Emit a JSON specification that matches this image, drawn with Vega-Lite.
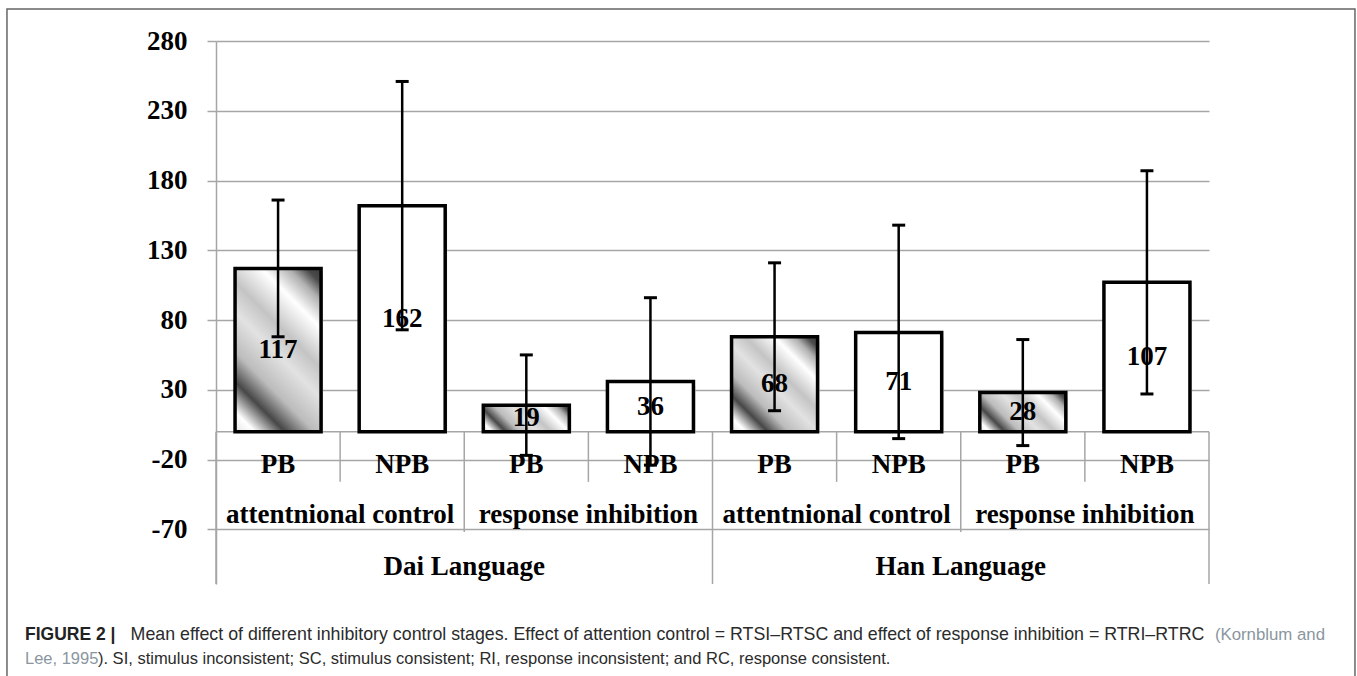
{
  "$schema": "https://vega.github.io/schema/vega-lite/v6.json",
  "width": 993,
  "height": 543,
  "autosize": {"type": "none"},
  "padding": {"left": 216, "top": 41, "right": 148, "bottom": 92},
  "background": "white",
  "config": {"view": {"stroke": null}, "font": "Liberation Serif"},
  "datasets": {
    "bars": [
      {"lang": "Dai Language", "group": "attentnional control", "cond": "PB", "key": "Dai-att-PB", "mean": 117, "lo": 68, "hi": 166},
      {"lang": "Dai Language", "group": "attentnional control", "cond": "NPB", "key": "Dai-att-NPB", "mean": 162, "lo": 73, "hi": 251},
      {"lang": "Dai Language", "group": "response inhibition", "cond": "PB", "key": "Dai-res-PB", "mean": 19, "lo": -17, "hi": 55},
      {"lang": "Dai Language", "group": "response inhibition", "cond": "NPB", "key": "Dai-res-NPB", "mean": 36, "lo": -24, "hi": 96},
      {"lang": "Han Language", "group": "attentnional control", "cond": "PB", "key": "Han-att-PB", "mean": 68, "lo": 15, "hi": 121},
      {"lang": "Han Language", "group": "attentnional control", "cond": "NPB", "key": "Han-att-NPB", "mean": 71, "lo": -5, "hi": 148},
      {"lang": "Han Language", "group": "response inhibition", "cond": "PB", "key": "Han-res-PB", "mean": 28, "lo": -10, "hi": 66},
      {"lang": "Han Language", "group": "response inhibition", "cond": "NPB", "key": "Han-res-NPB", "mean": 107, "lo": 27, "hi": 187}
    ],
    "groups": [
      {"gk": "Dai-att", "label": "attentnional control"},
      {"gk": "Dai-res", "label": "response inhibition"},
      {"gk": "Han-att", "label": "attentnional control"},
      {"gk": "Han-res", "label": "response inhibition"}
    ],
    "langs": [
      {"lang": "Dai Language"},
      {"lang": "Han Language"}
    ],
    "caption": [
      {"part": "fig", "text": "FIGURE 2 |"},
      {"part": "main1", "text": "Mean effect of different inhibitory control stages. Effect of attention control = RTSI–RTSC and effect of response inhibition = RTRI–RTRC"},
      {"part": "cite1", "text": "(Kornblum and"},
      {"part": "cite2", "text": "Lee, 1995"},
      {"part": "main2", "text": "). SI, stimulus inconsistent; SC, stimulus consistent; RI, response inconsistent; and RC, response consistent."}
    ],
    "one": [{}]
  },
  "resolve": {"scale": {"x": "independent", "y": "independent"}},
  "layer": [
    {
      "data": {"name": "one"},
      "layer": [
        {
          "mark": {"type": "rect", "fill": null, "stroke": "#666666", "strokeWidth": 1.5},
          "encoding": {
            "x": {"datum": -1.684, "type": "quantitative", "scale": {"domain": [0, 8]}, "axis": null},
            "x2": {"datum": 9.176},
            "y": {"datum": 302.9, "type": "quantitative", "scale": {"domain": [-109.2, 280], "nice": false, "zero": false}, "axis": null},
            "y2": {"datum": -260}
          }
        },
        {
          "data": {"name": "caption"},
          "transform": [{"filter": "datum.part=='fig'"}],
          "mark": {"type": "text", "font": "Liberation Sans", "fontWeight": "bold", "fontSize": 17.5, "align": "left", "baseline": "middle", "color": "#222222"},
          "encoding": {"x": {"datum": -1.5388, "type": "quantitative"}, "y": {"datum": -145.7, "type": "quantitative"}, "text": {"field": "text"}}
        },
        {
          "data": {"name": "caption"},
          "transform": [{"filter": "datum.part=='main1'"}],
          "mark": {"type": "text", "font": "Liberation Sans", "fontSize": 17.8, "align": "left", "baseline": "middle", "color": "#2b2b2b"},
          "encoding": {"x": {"datum": -0.688, "type": "quantitative"}, "y": {"datum": -145.7, "type": "quantitative"}, "text": {"field": "text"}}
        },
        {
          "data": {"name": "caption"},
          "transform": [{"filter": "datum.part=='cite1'"}],
          "mark": {"type": "text", "font": "Liberation Sans", "fontSize": 16.8, "align": "right", "baseline": "middle", "color": "#8a96a0"},
          "encoding": {"x": {"datum": 8.9345, "type": "quantitative"}, "y": {"datum": -145.7, "type": "quantitative"}, "text": {"field": "text"}}
        },
        {
          "data": {"name": "caption"},
          "transform": [{"filter": "datum.part=='cite2'"}],
          "mark": {"type": "text", "font": "Liberation Sans", "fontSize": 16.5, "align": "left", "baseline": "middle", "color": "#8a96a0"},
          "encoding": {"x": {"datum": -1.5388, "type": "quantitative"}, "y": {"datum": -162.9, "type": "quantitative"}, "text": {"field": "text"}}
        },
        {
          "data": {"name": "caption"},
          "transform": [{"filter": "datum.part=='main2'"}],
          "mark": {"type": "text", "font": "Liberation Sans", "fontSize": 16.5, "align": "left", "baseline": "middle", "color": "#2b2b2b"},
          "encoding": {"x": {"datum": -0.951, "type": "quantitative"}, "y": {"datum": -162.9, "type": "quantitative"}, "text": {"field": "text"}}
        }
      ]
    },
    {
      "data": {"name": "one"},
      "mark": {"type": "rule", "stroke": "#a6a6a6", "strokeWidth": 1.5},
      "encoding": {"y": {"datum": 0, "type": "quantitative", "scale": {"domain": [-109.2, 280], "nice": false, "zero": false}, "axis": null}}
    },
    {
      "data": {"name": "bars"},
      "encoding": {
        "x": {"field": "key", "type": "nominal", "sort": null, "axis": null,
              "scale": {"domain": ["Dai-att-PB", "Dai-att-NPB", "Dai-res-PB", "Dai-res-NPB", "Han-att-PB", "Han-att-NPB", "Han-res-PB", "Han-res-NPB"], "paddingInner": 0.307, "paddingOuter": 0.1535}}
      },
      "layer": [
        {
          "mark": {"type": "bar", "fill": "#d9d9d9", "xOffset": 2, "yOffset": 5},
          "encoding": {
            "y": {"field": "mean", "type": "quantitative",
                  "scale": {"domain": [-109.2, 280], "nice": false, "zero": false},
                  "axis": {"orient": "left", "values": [-70, -20, 30, 80, 130, 180, 230, 280], "title": null, "grid": true,
                           "labelExpr": "'' + datum.value",
                           "gridColor": "#a6a6a6", "gridWidth": 1.5, "domainColor": "#a6a6a6", "domainWidth": 1.5,
                           "tickColor": "#a6a6a6", "tickWidth": 1.5, "tickSize": 9, "labelFont": "Liberation Serif",
                           "labelFontWeight": "bold", "labelFontSize": 27, "labelColor": "black", "labelPadding": 20,
                           "labelFlush": false, "labelOverlap": false, "labelBound": false}},
            "y2": {"datum": 0}
          }
        },
        {
          "mark": {"type": "bar", "stroke": "black", "strokeWidth": 3.5},
          "encoding": {
            "y": {"field": "mean", "type": "quantitative"},
            "y2": {"datum": 0},
            "fill": {
              "condition": [
                {"test": "datum.key=='Dai-att-PB'", "value": {"gradient": "linear", "x1": 0, "y1": 1, "x2": 0.631, "y2": -0.195,
                  "stops": [{"offset": 0, "color": "#e6e6e6"}, {"offset": 0.08, "color": "#ffffff"}, {"offset": 0.2, "color": "#474747"}, {"offset": 0.32, "color": "#bcbcbc"}, {"offset": 0.48, "color": "#e2e2e2"}, {"offset": 0.6, "color": "#c4c4c4"}, {"offset": 0.76, "color": "#ffffff"}, {"offset": 0.87, "color": "#b0b0b0"}, {"offset": 0.94, "color": "#4a4a4a"}, {"offset": 1, "color": "#3a3a3a"}]}},
                {"test": "datum.key=='Dai-res-PB'", "value": {"gradient": "linear", "x1": 0, "y1": 1, "x2": 1.195, "y2": 0.632,
                  "stops": [{"offset": 0, "color": "#e6e6e6"}, {"offset": 0.08, "color": "#ffffff"}, {"offset": 0.2, "color": "#474747"}, {"offset": 0.32, "color": "#bcbcbc"}, {"offset": 0.48, "color": "#e2e2e2"}, {"offset": 0.6, "color": "#c4c4c4"}, {"offset": 0.76, "color": "#ffffff"}, {"offset": 0.87, "color": "#b0b0b0"}, {"offset": 0.94, "color": "#4a4a4a"}, {"offset": 1, "color": "#3a3a3a"}]}},
                {"test": "datum.key=='Han-att-PB'", "value": {"gradient": "linear", "x1": 0, "y1": 1, "x2": 0.949, "y2": -0.046,
                  "stops": [{"offset": 0, "color": "#e6e6e6"}, {"offset": 0.08, "color": "#ffffff"}, {"offset": 0.2, "color": "#474747"}, {"offset": 0.32, "color": "#bcbcbc"}, {"offset": 0.48, "color": "#e2e2e2"}, {"offset": 0.6, "color": "#c4c4c4"}, {"offset": 0.76, "color": "#ffffff"}, {"offset": 0.87, "color": "#b0b0b0"}, {"offset": 0.94, "color": "#4a4a4a"}, {"offset": 1, "color": "#3a3a3a"}]}},
                {"test": "datum.key=='Han-res-PB'", "value": {"gradient": "linear", "x1": 0, "y1": 1, "x2": 1.206, "y2": 0.453,
                  "stops": [{"offset": 0, "color": "#e6e6e6"}, {"offset": 0.08, "color": "#ffffff"}, {"offset": 0.2, "color": "#474747"}, {"offset": 0.32, "color": "#bcbcbc"}, {"offset": 0.48, "color": "#e2e2e2"}, {"offset": 0.6, "color": "#c4c4c4"}, {"offset": 0.76, "color": "#ffffff"}, {"offset": 0.87, "color": "#b0b0b0"}, {"offset": 0.94, "color": "#4a4a4a"}, {"offset": 1, "color": "#3a3a3a"}]}}
              ],
              "value": "#ffffff"
            }
          }
        }
      ]
    },
    {
      "data": {"name": "bars"},
      "mark": {"type": "text", "font": "Liberation Serif", "fontWeight": "bold", "fontSize": 27, "baseline": "middle", "color": "black"},
      "encoding": {
        "x": {"field": "key", "type": "nominal", "sort": null, "axis": null,
              "scale": {"domain": ["Dai-att-PB", "Dai-att-NPB", "Dai-res-PB", "Dai-res-NPB", "Han-att-PB", "Han-att-NPB", "Han-res-PB", "Han-res-NPB"], "paddingInner": 0.307, "paddingOuter": 0.1535}},
        "y": {"field": "mean", "type": "quantitative", "scale": {"domain": [-218.4, 560], "nice": false, "zero": false}, "axis": null},
        "text": {"field": "mean", "type": "quantitative"}
      }
    },
    {
      "data": {"name": "bars"},
      "encoding": {
        "x": {"field": "key", "type": "nominal", "sort": null, "axis": null,
              "scale": {"domain": ["Dai-att-PB", "Dai-att-NPB", "Dai-res-PB", "Dai-res-NPB", "Han-att-PB", "Han-att-NPB", "Han-res-PB", "Han-res-NPB"], "paddingInner": 0.307, "paddingOuter": 0.1535}},
        "y": {"field": "lo", "type": "quantitative", "scale": {"domain": [-109.2, 280], "nice": false, "zero": false}, "axis": null}
      },
      "layer": [
        {
          "mark": {"type": "rule", "stroke": "black", "strokeWidth": 2.5},
          "encoding": {"y2": {"field": "hi"}}
        },
        {
          "mark": {"type": "tick", "color": "black", "size": 13, "thickness": 3, "opacity": 1}
        },
        {
          "mark": {"type": "tick", "color": "black", "size": 13, "thickness": 3, "opacity": 1},
          "encoding": {"y": {"field": "hi", "type": "quantitative"}}
        }
      ]
    },
    {
      "data": {"name": "bars"},
      "encoding": {
        "x": {"field": "key", "type": "nominal", "sort": null, "axis": null,
              "scale": {"domain": ["Dai-att-PB", "Dai-att-NPB", "Dai-res-PB", "Dai-res-NPB", "Han-att-PB", "Han-att-NPB", "Han-res-PB", "Han-res-NPB"], "paddingInner": 0, "paddingOuter": 0}}
      },
      "layer": [
        {
          "mark": {"type": "text", "font": "Liberation Serif", "fontWeight": "bold", "fontSize": 27, "baseline": "middle", "color": "black"},
          "encoding": {"y": {"datum": -23.8, "type": "quantitative", "scale": {"domain": [-109.2, 280], "nice": false, "zero": false}, "axis": null}, "text": {"field": "cond"}}
        },
        {
          "transform": [{"filter": "datum.cond=='NPB'"}],
          "mark": {"type": "rule", "stroke": "#a6a6a6", "strokeWidth": 1.5},
          "encoding": {"x": {"field": "key", "type": "nominal", "bandPosition": 0}, "y": {"datum": 0, "type": "quantitative"}, "y2": {"datum": -36}}
        },
        {
          "transform": [{"filter": "datum.cond=='PB' && datum.group=='response inhibition'"}],
          "mark": {"type": "rule", "stroke": "#a6a6a6", "strokeWidth": 1.5},
          "encoding": {"x": {"field": "key", "type": "nominal", "bandPosition": 0}, "y": {"datum": 0, "type": "quantitative"}, "y2": {"datum": -72}}
        },
        {
          "transform": [{"filter": "datum.cond=='PB' && datum.group=='attentnional control'"}],
          "mark": {"type": "rule", "stroke": "#a6a6a6", "strokeWidth": 1.5},
          "encoding": {"x": {"field": "key", "type": "nominal", "bandPosition": 0}, "y": {"datum": 0, "type": "quantitative"}, "y2": {"datum": -109.2}}
        },
        {
          "transform": [{"filter": "datum.key=='Han-res-NPB'"}],
          "mark": {"type": "rule", "stroke": "#a6a6a6", "strokeWidth": 1.5},
          "encoding": {"x": {"field": "key", "type": "nominal", "bandPosition": 1}, "y": {"datum": 0, "type": "quantitative"}, "y2": {"datum": -109.2}}
        }
      ]
    },
    {
      "data": {"name": "groups"},
      "mark": {"type": "text", "font": "Liberation Serif", "fontWeight": "bold", "fontSize": 27, "baseline": "middle", "color": "black"},
      "encoding": {
        "x": {"field": "gk", "type": "nominal", "sort": null, "axis": null, "scale": {"domain": ["Dai-att", "Dai-res", "Han-att", "Han-res"], "paddingInner": 0, "paddingOuter": 0}},
        "y": {"datum": -59.6, "type": "quantitative", "scale": {"domain": [-109.2, 280], "nice": false, "zero": false}, "axis": null},
        "text": {"field": "label"}
      }
    },
    {
      "data": {"name": "langs"},
      "mark": {"type": "text", "font": "Liberation Serif", "fontWeight": "bold", "fontSize": 27, "baseline": "middle", "color": "black"},
      "encoding": {
        "x": {"field": "lang", "type": "nominal", "sort": null, "axis": null, "scale": {"domain": ["Dai Language", "Han Language"], "paddingInner": 0, "paddingOuter": 0}},
        "y": {"datum": -97, "type": "quantitative", "scale": {"domain": [-109.2, 280], "nice": false, "zero": false}, "axis": null},
        "text": {"field": "lang"}
      }
    }
  ]
}
